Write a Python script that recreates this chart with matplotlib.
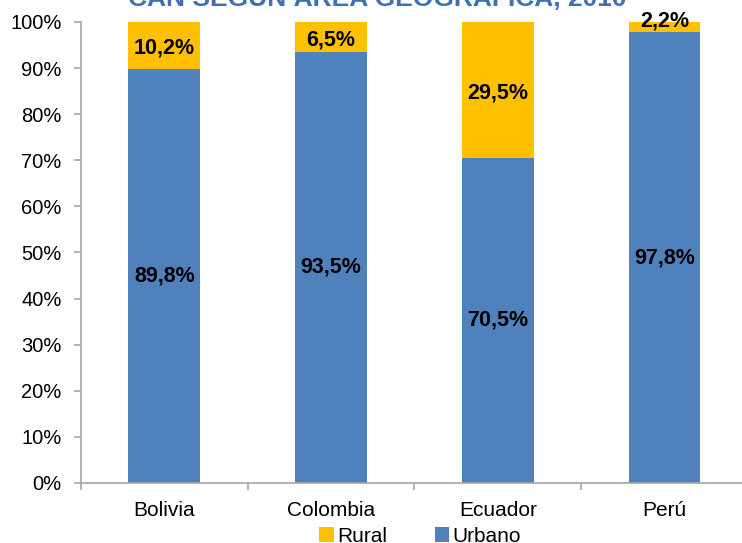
import numpy as np
import matplotlib.pyplot as plt
from matplotlib.ticker import FuncFormatter

plt.rcParams['font.family'] = ['Liberation Sans', 'DejaVu Sans']

# data
paises = ["Bolivia", "Colombia", "Ecuador", "Perú"]
urbano = [89.8, 93.5, 70.5, 97.8]
rural = [10.2, 6.5, 29.5, 2.2]

c_urb = "#4F81BD"
c_rur = "#FFC000"
gris = "#A6A6A6"

fig = plt.figure(figsize=(7.42, 5.43), dpi=100)
ax = fig.add_axes([0.109, 0.1105, 0.899, 0.849])

x = np.arange(len(paises))
w = 0.43
ax.bar(x, urbano, w, color=c_urb, label="Urbano", zorder=2)
ax.bar(x, rural, w, bottom=urbano, color=c_rur, label="Rural", zorder=2)

def fmt(v):
    return f"{v:.1f}%".replace(".", ",")

for i in range(len(paises)):
    ax.text(x[i], urbano[i] / 2, fmt(urbano[i]), ha="center", va="center",
            fontsize=15.5, fontweight="bold", color="black", zorder=3)
    yr = urbano[i] + rural[i] / 2 - 0.6
    if rural[i] < 4:
        yr = urbano[i] + rural[i] + 0.2
    ax.text(x[i], yr, fmt(rural[i]), ha="center", va="center",
            fontsize=15.5, fontweight="bold", color="black", zorder=3)

ax.set_xlim(-0.5, len(paises) - 0.5)
ax.set_ylim(0, 100)
ax.set_yticks(np.arange(0, 101, 10))
ax.yaxis.set_major_formatter(FuncFormatter(lambda v, p: f"{v:.0f}%"))
ax.set_xticks(x)
ax.set_xticklabels(paises)
ax.set_xticks(np.arange(-0.5, len(paises), 1), minor=True)
ax.tick_params(axis="x", which="major", length=0, labelsize=15, pad=13)
ax.tick_params(axis="x", which="minor", length=5, color=gris, width=1.2)
ax.tick_params(axis="y", length=5, color=gris, width=1.2, labelsize=14.5, pad=9)

for s in ["top", "right"]:
    ax.spines[s].set_visible(False)
for s in ["left", "bottom"]:
    ax.spines[s].set_color(gris)
    ax.spines[s].set_linewidth(1.2)

h, l = ax.get_legend_handles_labels()
fig.legend(h[::-1], l[::-1], loc="center", bbox_to_anchor=(0.566, 0.012), ncol=2,
           frameon=False, fontsize=15, handlelength=0.7, handleheight=0.7,
           handletextpad=0.15, columnspacing=2.3)

fig.text(0.508, 1 - 6 / 543, "CAN SEGÚN ÁREA GEOGRÁFICA, 2010", ha="center",
         va="baseline", fontsize=19, fontweight="bold", color="#4170B0")

fig.savefig("out.png", dpi=100)
